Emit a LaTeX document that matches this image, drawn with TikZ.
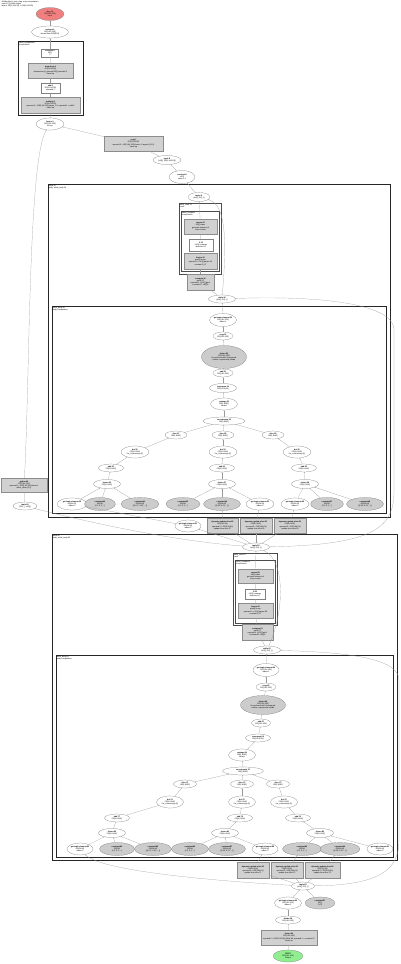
\documentclass[tikz,border=0pt]{standalone}
\usepackage{fontspec}
\setmainfont{Liberation Sans}
\usetikzlibrary{shapes.geometric,arrows.meta}
\newcommand\hlofont{\fontsize{1.9}{2.3}\selectfont}
\tikzset{
  hlo/.style = {ellipse, draw=black!55, line width=0.2pt, inner sep=0pt, align=center, font=\hlofont, minimum width=26, minimum height=9},
  hlo3/.style = {hlo, minimum height=12},
  fused/.style = {hlo3, fill=black!20},
  param/.style = {hlo3, fill={rgb,255:red,240;green,128;blue,128}},
  result/.style = {hlo3, fill={rgb,255:red,144;green,238;blue,144}},
  opbox/.style = {rectangle, draw=black!45, line width=0.2pt, fill=black!18, inner sep=0pt, align=center, font=\hlofont},
  cbox/.style = {opbox, fill=white, draw=black!50},
  grp/.style = {draw=black!85, line width=0.8pt},
  grpin/.style = {draw=black!70, line width=0.5pt},
  grplabel/.style = {anchor=north west, inner sep=0.6pt, align=left, font=\hlofont},
  edge/.style = {draw=black!40, line width=0.2pt, -{Stealth[length=0.9pt,width=0.8pt]}},
}
\begin{document}
\begin{tikzpicture}[x=1pt, y=-1pt]
\useasboundingbox (0,0) rectangle (400,964);
\node[grplabel] (title) at (1,0) {HloModule jit\_train\_step, entry computation\\main.42 (3 while loops)\\layout: f32[1,64,128] -> f32[1,64,128]};

% entry: input and first fusion
\node[param, minimum width=28, minimum height=13] (arg) at (50,14) {\textbf{Arg\_0.1}\\f32[1,64,128]\\Input};
\node[hlo3, minimum width=37] (rsh) at (50,32) {\textbf{reshape.2}\\f32[1,64,128]\\bitcast from f32[8192]};
\draw[grp] (18,41) rectangle (83,115);
\node[grplabel] at (18,41) {fused\_computation\\kLoop fusion};
\node[cbox, minimum width=17, minimum height=8] (cst) at (50,53) {\textbf{constant.3}\\f32[]\\0};
\node[opbox, minimum width=45, minimum height=15] (bcast) at (50.5,70.5) {\textbf{broadcast.4}\\f32[1,64,128]\\dimensions=\{\} operand f32[] constant.3\\fused op};
\node[cbox, minimum width=19, minimum height=10] (add) at (50.5,88) {\textbf{add.5}\\f32[1,64,128]\\operand 1};
\node[opbox, minimum width=59, minimum height=16] (mul) at (50.5,105) {\textbf{multiply.6}\\f32[1,64,128]\\operand 0 = f32[1,64,128] param\_0.1, operand 1 = add.5\\fused op};
\node[hlo3, minimum width=28] (fus) at (50,124) {\textbf{fusion.1}\\f32[1,64,128]\\kLoop};
\node[opbox, minimum width=59, minimum height=15] (copy) at (133.5,143.5) {\textbf{copy.7}\\f32[1,64,128]\\operand 0 = f32[1,64,128] fusion.1, layout=\{2,1,0\}\\fused op};
\node[hlo, minimum width=28] (tup) at (167,160) {\textbf{tuple.8}\\(s32[], f32[1,64,128])};
\node[hlo3, minimum height=13] (zero) at (182,177) {\textbf{constant.9}\\s32[]\\value = 0};

% first while loop
\draw[grp] (48,184) rectangle (390,517);
\node[grplabel] at (48,184) {while.10\\body: while\_body.19};
\node[hlo, minimum width=22] (init) at (199,197) {\textbf{tuple.11}\\(s32[], f32[...])};
\draw[grpin] (179,203) rectangle (221,274);
\node[grplabel] at (179,203) {while\_cond.12\\cond};
\draw[grpin] (181,211) rectangle (219,271);
\node[grplabel] at (181,211) {fused\_compare\\kLoop fusion};
\node[opbox, minimum width=33, minimum height=15] (gte) at (200.5,226.5) {\textbf{param.13}\\s32[] index\\get-tuple-element of\\loop counter};
\node[cbox, minimum width=24, minimum height=12] (lt) at (201,245) {\textbf{lt.14}\\s32[] compare\\direction=LT};
\node[opbox, minimum width=33, minimum height=16] (cmpf) at (200.5,261) {\textbf{fusion.15}\\pred[] kLoop\\operand 0 = s32[] param.13\\constant 8, LT};
\node[opbox, minimum width=27, minimum height=16] (cmp) at (200.5,282) {\textbf{compare.16}\\pred[] LT\\operand 0 = s32[] gte.0\\constant.17 s32[] 8};
\node[hlo, minimum width=27, minimum height=8] (loop) at (222,299) {\textbf{while.18}\\(s32[], f32[...])};

\draw[grp] (52,306) rectangle (386,513);
\node[grplabel] at (52,306) {while\_body.19\\body computation};
\node[hlo3, minimum width=27, minimum height=13] (bgte) at (223,320) {\textbf{get-tuple-element.20}\\f32[1,64,128]\\index=1};
\node[hlo, minimum width=20, minimum height=8] (bcpy) at (223,336) {\textbf{copy.21}\\f32[1,64,128]};
\node[fused, minimum width=45, minimum height=23] (bfus) at (224,357) {\textbf{fusion.22}\\f32[1,64,128]\\kLoop fusion with 3 operands\\reduce, exponential, divide};
\node[hlo, minimum width=20, minimum height=8] (badd) at (223,373) {\textbf{add.23}\\f32[1,64,128]};
\node[hlo, minimum width=27] (btr) at (223,388) {\textbf{transpose.24}\\f32[1,128,64]};
\node[hlo3, minimum width=27] (brs) at (224,404) {\textbf{reshape.25}\\f32[1,8192]\\bitcast};
\node[hlo, minimum width=42, minimum height=8] (cat) at (224,421) {\textbf{concatenate.26}\\f32[3,8192]};
\node[hlo, minimum width=22, minimum height=8] (sa) at (176,435) {\textbf{slice.27}\\f32[1,8192]};
\node[hlo, minimum width=22, minimum height=8] (sb) at (223,435) {\textbf{slice.28}\\f32[1,8192]};
\node[hlo, minimum width=22, minimum height=8] (sc) at (273,435) {\textbf{slice.29}\\f32[1,8192]};
\node[hlo3, minimum width=28] (da) at (135,452) {\textbf{dot.30}\\f32[1,64,64]\\lhs\_contracting=\{2\}};
\node[hlo3, minimum width=28] (db) at (223,452) {\textbf{dot.31}\\f32[1,64,64]\\lhs\_contracting=\{2\}};
\node[hlo3, minimum width=28] (dc) at (297,452) {\textbf{dot.32}\\f32[1,64,64]\\lhs\_contracting=\{2\}};
\node[hlo, minimum width=25, minimum height=8] (aa) at (111,468) {\textbf{add.33}\\f32[1,64,64]};
\node[hlo, minimum width=25, minimum height=8] (ab) at (222,468) {\textbf{add.34}\\f32[1,64,64]};
\node[hlo, minimum width=25, minimum height=8] (ac) at (304,468) {\textbf{add.35}\\f32[1,64,64]};
\node[hlo, minimum width=27] (fa) at (107,484) {\textbf{fusion.36}\\f32[1,64,64]};
\node[hlo, minimum width=27] (fb) at (222,484) {\textbf{fusion.37}\\f32[1,64,64]};
\node[hlo, minimum width=27] (fc) at (305,484) {\textbf{fusion.38}\\f32[1,64,64]};
\node[hlo3, minimum width=30] (la1) at (72,504) {\textbf{get-tuple-element.39}\\f32[64,64]\\index=2};
\node[fused, minimum width=31, minimum height=13] (la2) at (100,504) {\textbf{constant.40}\\f32[64]\\\{0.1, 0.1, ...\}};
\node[fused, minimum width=38, minimum height=13] (la3) at (140,504) {\textbf{constant.41}\\f32[64,64]\\\{\{0.02, -0.01, ...\}\}};
\node[fused, minimum width=34, minimum height=13] (lb1) at (183,504) {\textbf{constant.43}\\f32[64]\\\{0.1, 0.1, ...\}};
\node[fused, minimum width=37, minimum height=13] (lb2) at (222,504) {\textbf{constant.44}\\f32[64,64]\\\{\{0.03, 0.01, ...\}\}};
\node[hlo3, minimum width=28] (lb3) at (260,504) {\textbf{get-tuple-element.45}\\f32[64,64]\\index=3};
\node[hlo3, minimum width=28] (lc1) at (295,504) {\textbf{get-tuple-element.46}\\f32[64,64]\\index=4};
\node[fused, minimum width=33, minimum height=13] (lc2) at (327,504) {\textbf{constant.47}\\f32[64]\\\{0.1, 0.1, ...\}};
\node[fused, minimum width=37, minimum height=13] (lc3) at (365,504) {\textbf{constant.48}\\f32[64,64]\\\{\{0.05, 0.02, ...\}\}};

\node[opbox, minimum width=46, minimum height=14] (gat) at (24,485) {\textbf{gather.49}\\f32[1,64,128]\\operand 0 = f32[1,64,128] fusion.1\\offset\_dims=\{1,2\}};
\node[hlo, minimum width=24, minimum height=8] (gtup) at (25,506) {\textbf{tuple.50}\\(f32[...], s32[])};

% between the loops
\node[hlo3, minimum width=25] (wgte) at (188,526) {\textbf{get-tuple-element.51}\\f32[64,64]\\index=2};
\node[opbox, minimum width=31, minimum height=15] (dus1) at (222.5,525.5) {\textbf{dynamic-update-slice.52}\\f32[3,64,64]\\operand 0 = f32[3,64,64]\\update from slice.27};
\node[opbox, minimum width=32, minimum height=15] (dus2) at (256,525.5) {\textbf{dynamic-update-slice.53}\\f32[3,64,64]\\operand 0 = f32[3,64,64]\\update from slice.28};
\node[opbox, minimum width=32, minimum height=15] (dus3) at (290,525.5) {\textbf{dynamic-update-slice.54}\\f32[3,64,64]\\operand 0 = f32[3,64,64]\\update from slice.29};
\node[hlo, minimum width=27, minimum height=8] (mid) at (256,547) {\textbf{tuple.55}\\(s32[], f32[...])};

% second while loop
\draw[grp] (52,534) rectangle (397,860);
\node[grplabel] at (52,534) {while.56\\body: while\_body.63};
\draw[grpin] (233,553) rectangle (277,625);
\node[grplabel] at (233,553) {while\_cond.57\\cond};
\draw[grpin] (235,560) rectangle (275,623);
\node[grplabel] at (235,560) {fused\_compare.1\\kLoop fusion};
\node[opbox, minimum width=35, minimum height=14] (gte2) at (255.5,576) {\textbf{param.58}\\s32[] index\\get-tuple-element of\\loop counter};
\node[cbox, minimum width=20, minimum height=10] (lt2) at (255,594) {\textbf{lt.59}\\s32[] compare\\direction=LT};
\node[opbox, minimum width=35, minimum height=15] (cmpf2) at (255.5,610.5) {\textbf{fusion.60}\\pred[] kLoop\\operand 0 = s32[] param.58\\constant 8, LT};
\node[opbox, minimum width=31, minimum height=16] (cmp2) at (257.5,632) {\textbf{compare.61}\\pred[] LT\\operand 0 = s32[] gte.1\\constant.62 s32[] 8};
\node[hlo, minimum width=27, minimum height=8] (loop2) at (267,650) {\textbf{while.62}\\(s32[], f32[...])};

\draw[grp] (56,655) rectangle (393,857);
\node[grplabel] at (56,655) {while\_body.63\\body computation};
\node[hlo3, minimum width=24, minimum height=13] (cgte) at (266,670) {\textbf{get-tuple-element.64}\\f32[1,64,128]\\index=1};
\node[hlo, minimum width=20, minimum height=8] (ccpy) at (266,687) {\textbf{copy.65}\\f32[1,64,128]};
\node[fused, minimum width=45, minimum height=19] (cfus) at (263,705) {\textbf{fusion.66}\\f32[1,64,128]\\kLoop fusion with 3 operands\\reduce, exponential, divide};
\node[hlo, minimum width=19, minimum height=8] (cadd) at (261,723) {\textbf{add.67}\\f32[1,64,128]};
\node[hlo, minimum width=25, minimum height=8] (ctr) at (258,738) {\textbf{transpose.68}\\f32[1,128,64]};
\node[hlo3, minimum width=27] (crs) at (242,755) {\textbf{reshape.69}\\f32[1,8192]\\bitcast};
\node[hlo, minimum width=41, minimum height=8] (cat2) at (243,771) {\textbf{concatenate.70}\\f32[3,8192]};
\node[hlo, minimum width=23, minimum height=8] (sa2) at (185,784) {\textbf{slice.71}\\f32[1,8192]};
\node[hlo, minimum width=23, minimum height=8] (sb2) at (242,784) {\textbf{slice.72}\\f32[1,8192]};
\node[hlo, minimum width=23, minimum height=8] (sc2) at (278,784) {\textbf{slice.73}\\f32[1,8192]};
\node[hlo3, minimum width=27] (da2) at (170,802) {\textbf{dot.74}\\f32[1,64,64]\\lhs\_contracting=\{2\}};
\node[hlo3, minimum width=27] (db2) at (242,802) {\textbf{dot.75}\\f32[1,64,64]\\lhs\_contracting=\{2\}};
\node[hlo3, minimum width=27] (dc2) at (284,802) {\textbf{dot.76}\\f32[1,64,64]\\lhs\_contracting=\{2\}};
\node[hlo, minimum width=25, minimum height=8] (aa2) at (117,818) {\textbf{add.77}\\f32[1,64,64]};
\node[hlo, minimum width=25, minimum height=8] (ab2) at (240,818) {\textbf{add.78}\\f32[1,64,64]};
\node[hlo, minimum width=25, minimum height=8] (ac2) at (298,818) {\textbf{add.79}\\f32[1,64,64]};
\node[hlo, minimum width=27] (fa2) at (112,833) {\textbf{fusion.80}\\f32[1,64,64]};
\node[hlo, minimum width=27] (fb2) at (225,833) {\textbf{fusion.81}\\f32[1,64,64]};
\node[hlo, minimum width=27] (fc2) at (320,833) {\textbf{fusion.82}\\f32[1,64,64]};
\node[hlo3, minimum width=26] (ma1) at (80,849) {\textbf{get-tuple-element.83}\\f32[64,64]\\index=2};
\node[fused, minimum width=35, minimum height=13] (ma2) at (117,849) {\textbf{constant.84}\\f32[64]\\\{0.1, 0.1, ...\}};
\node[fused, minimum width=37, minimum height=13] (ma3) at (153,849) {\textbf{constant.85}\\f32[64,64]\\\{\{0.02, -0.01, ...\}\}};
\node[fused, minimum width=37, minimum height=13] (mb1) at (190,849) {\textbf{constant.86}\\f32[64]\\\{0.1, 0.1, ...\}};
\node[fused, minimum width=37, minimum height=13] (mb2) at (227,849) {\textbf{constant.87}\\f32[64,64]\\\{\{0.03, 0.01, ...\}\}};
\node[hlo3, minimum width=25] (mb3) at (265,849) {\textbf{get-tuple-element.88}\\f32[64,64]\\index=3};
\node[fused, minimum width=39, minimum height=13] (mc1) at (302,849) {\textbf{constant.89}\\f32[64]\\\{0.1, 0.1, ...\}};
\node[fused, minimum width=40, minimum height=13] (mc2) at (340,849) {\textbf{constant.90}\\f32[64,64]\\\{\{0.05, 0.02, ...\}\}};
\node[hlo3, minimum width=25] (mc3) at (380,849) {\textbf{get-tuple-element.91}\\f32[64,64]\\index=4};

% exit
\node[opbox, minimum width=32, minimum height=16] (dus4) at (253,870) {\textbf{dynamic-update-slice.92}\\f32[3,64,64]\\operand 0 = f32[3,64,64]\\update from slice.71};
\node[opbox, minimum width=32, minimum height=16] (dus5) at (287,870) {\textbf{dynamic-update-slice.93}\\f32[3,64,64]\\operand 0 = f32[3,64,64]\\update from slice.72};
\node[opbox, minimum width=35, minimum height=16] (dus6) at (322.5,870) {\textbf{dynamic-update-slice.94}\\f32[3,64,64]\\operand 0 = f32[3,64,64]\\update from slice.73};
\node[hlo, minimum width=23, minimum height=8] (fin) at (303,886) {\textbf{tuple.95}\\(s32[], f32[...])};
\node[hlo3, minimum width=27] (fgte) at (288,903) {\textbf{get-tuple-element.96}\\f32[1,64,128]\\index=1};
\node[fused, minimum width=30] (fcst) at (320,903) {\textbf{constant.97}\\f32[]\\\{1.0\}};
\node[hlo, minimum width=25, minimum height=8] (fdiv) at (288,920) {\textbf{divide.98}\\f32[1,64,128]};
\node[opbox, minimum width=56, minimum height=15] (fred) at (289,937.5) {\textbf{fusion.99}\\f32[1,64,128]\\operand 0 = f32[1,64,128] divide.98, operand 1 = constant.97\\fused op};
\node[result, minimum width=30] (out) at (288,956) {\textbf{ROOT}\\f32[1,64,128]\\Output};

% edges, each from operand up to its user
\draw[edge] (rsh) -- (arg);
\draw[edge] (cst) -- (rsh);
\draw[edge] (bcast) -- (cst);
\draw[edge] (add) -- (bcast);
\draw[edge] (mul) -- (add);
\draw[edge] (fus) -- (mul);
\draw[edge] (copy) -- (fus);
\draw[edge] (gat) .. controls (30,380) and (28,160) .. (fus);
\draw[edge] (gtup) -- (gat);
\draw[edge] (tup) -- (copy);
\draw[edge] (zero) -- (tup);
\draw[edge] (init) -- (zero);
\draw[edge] (gte) -- (init);
\draw[edge] (lt) -- (gte);
\draw[edge] (cmpf) -- (lt);
\draw[edge] (cmp) -- (cmpf);
\draw[edge] (loop) -- (cmp);
\draw[edge] (loop) .. controls (226,250) and (228,205) .. (init);
\draw[edge] (bgte) -- (loop);
\draw[edge] (bcpy) -- (bgte);
\draw[edge] (bfus) -- (bcpy);
\draw[edge] (badd) -- (bfus);
\draw[edge] (btr) -- (badd);
\draw[edge] (brs) -- (btr);
\draw[edge] (cat) -- (brs);
\foreach \s in {sa,sb,sc} \draw[edge] (\s) -- (cat);
\draw[edge] (da) -- (sa);
\draw[edge] (db) -- (sb);
\draw[edge] (dc) -- (sc);
\draw[edge] (aa) -- (da);
\draw[edge] (ab) -- (db);
\draw[edge] (ac) -- (dc);
\draw[edge] (fa) -- (aa);
\draw[edge] (fb) -- (ab);
\draw[edge] (fc) -- (ac);
\foreach \l in {la1,la2,la3} \draw[edge] (\l) -- (fa);
\foreach \l in {lb1,lb2,lb3} \draw[edge] (\l) -- (fb);
\foreach \l in {lc1,lc2,lc3} \draw[edge] (\l) -- (fc);
\draw[edge] (wgte) -- (la1);
\draw[edge] (dus1) -- (lb2);
\draw[edge] (dus2) -- (lb3);
\draw[edge] (dus3) -- (lc1);
\foreach \d in {wgte,dus1,dus2,dus3} \draw[edge] (mid) -- (\d);
\draw[edge] (mid) .. controls (160,540) and (60,515) .. (gtup);
\draw[edge] (mid) .. controls (380,545) and (394,525) .. (394,490) -- (394,330) .. controls (394,300) and (300,296) .. (loop);
\draw[edge] (gte2) -- (mid);
\draw[edge] (lt2) -- (gte2);
\draw[edge] (cmpf2) -- (lt2);
\draw[edge] (cmp2) -- (cmpf2);
\draw[edge] (loop2) -- (cmp2);
\draw[edge] (loop2) .. controls (285,610) and (285,560) .. (mid);
\draw[edge] (cgte) -- (loop2);
\draw[edge] (ccpy) -- (cgte);
\draw[edge] (cfus) -- (ccpy);
\draw[edge] (cadd) -- (cfus);
\draw[edge] (ctr) -- (cadd);
\draw[edge] (crs) -- (ctr);
\draw[edge] (cat2) -- (crs);
\foreach \s in {sa2,sb2,sc2} \draw[edge] (\s) -- (cat2);
\draw[edge] (da2) -- (sa2);
\draw[edge] (db2) -- (sb2);
\draw[edge] (dc2) -- (sc2);
\draw[edge] (aa2) -- (da2);
\draw[edge] (ab2) -- (db2);
\draw[edge] (ac2) -- (dc2);
\draw[edge] (fa2) -- (aa2);
\draw[edge] (fb2) -- (ab2);
\draw[edge] (fc2) -- (ac2);
\foreach \l in {ma1,ma2,ma3} \draw[edge] (\l) -- (fa2);
\foreach \l in {mb1,mb2,mb3} \draw[edge] (\l) -- (fb2);
\foreach \l in {mc1,mc2,mc3} \draw[edge] (\l) -- (fc2);
\draw[edge] (dus4) -- (mb3);
\draw[edge] (dus5) -- (mc1);
\draw[edge] (dus6) -- (mc2);
\foreach \d in {dus4,dus5,dus6} \draw[edge] (fin) -- (\d);
\draw[edge] (fin) .. controls (200,880) and (100,870) .. (ma1);
\draw[edge] (fin) .. controls (380,885) and (399,870) .. (399,840) -- (399,680) .. controls (399,655) and (330,652) .. (loop2);
\draw[edge] (fgte) -- (fin);
\draw[edge] (fcst) -- (fin);
\draw[edge] (fdiv) -- (fgte);
\draw[edge] (fred) -- (fdiv);
\draw[edge] (out) -- (fred);
\end{tikzpicture}
\end{document}
